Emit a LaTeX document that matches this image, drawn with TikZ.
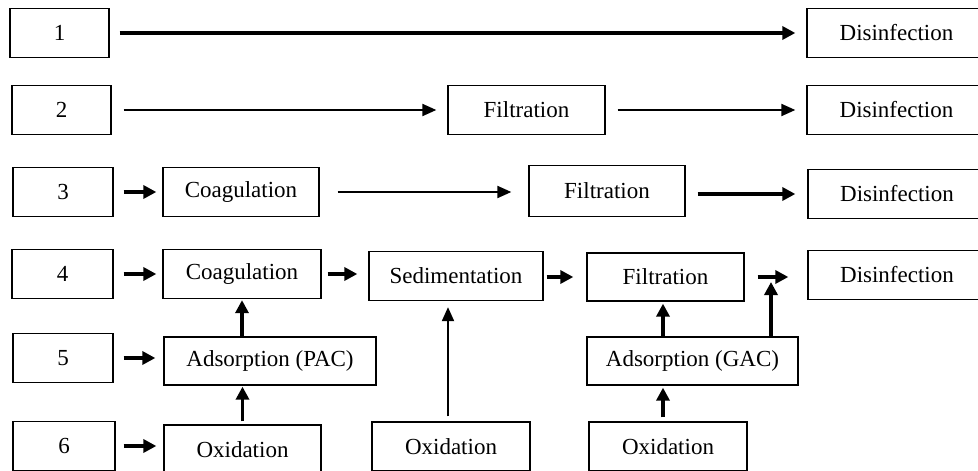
\documentclass[tikz,border=0pt]{standalone}
\usepackage{fontspec}
\setmainfont{Liberation Serif}
\usetikzlibrary{arrows.meta,calc}
\begin{document}
\begin{tikzpicture}[x=1pt,y=-1pt,
  box/.style={draw, line width=1.3pt, minimum width=#1, minimum height=49pt, inner sep=0pt,
    font=\fontsize{23}{27}\selectfont},
  arrthick/.style={line width=3.4pt, -{Triangle[length=13pt,width=13pt]}},
  arrthin/.style={line width=2pt, -{Triangle[length=14pt,width=12pt]}}]
\useasboundingbox (0,0) rectangle (978,471);
\clip (0,0) rectangle (978,471);
% left number boxes
\node[box=99pt] (b1) at (59.5,33) {1};
\node[box=99pt] (b2) at (61.5,110) {2};
\node[box=100pt] (b3) at (63,192) {3};
\node[box=101pt] (b4) at (62.5,274) {4};
\node[box=100pt] (b5) at (63,358) {5};
\node[box=102pt] (b6) at (64,446) {6};
% disinfection
\node[box=179pt] (d1) at (896.5,33) {Disinfection};
\node[box=179pt] (d2) at (896.5,110) {Disinfection};
\node[box=178pt] (d3) at (897,194) {Disinfection};
\node[box=178pt] (d4) at (897,275) {Disinfection};
% row 2
\node[box=157pt] (f2) at (526.5,110) {Filtration};
% row 3
\node[box=156pt] (c3) at (241,192) {Coagulation};
\node[box=156pt, minimum height=51pt] (f3) at (607,191) {Filtration};
% row 4
\node[box=158pt] (c4) at (242,274) {Coagulation};
\node[box=174pt] (sed) at (456,276) {Sedimentation};
\node[box=157pt, minimum height=48pt] (f4) at (665.5,277) {Filtration};
% row 5
\node[box=212pt, minimum height=48pt] (pac) at (270,361) {Adsorption (PAC)};
\node[box=211pt, minimum height=48pt] (gac) at (692.5,361) {Adsorption (GAC)};
% row 6
\node[box=157pt] (ox1) at (242.5,449.5) {Oxidation};
\node[box=158pt] (ox2) at (451,446.5) {Oxidation};
\node[box=158pt] (ox3) at (668,446.5) {Oxidation};
% row 1
\draw[arrthick, shorten <=10pt, shorten >=11pt] (b1.east) -- (d1.west);
% row 2
\draw[arrthin, shorten <=12pt, shorten >=11pt] (b2.east) -- (f2.west);
\draw[arrthin, shorten <=12pt, shorten >=11pt] (f2.east) -- (d2.west);
% row 3
\draw[arrthick, shorten <=10pt, shorten >=6pt] (b3.east) -- (b3.east -| c3.west);
\draw[arrthin, shorten <=18pt, shorten >=17pt] (c3.east) -- (c3.east -| f3.west);
\draw[arrthick, shorten <=12pt, shorten >=12pt] (f3.east |- d3.west) -- (d3.west);
% row 4
\draw[arrthick, shorten <=10pt, shorten >=6pt] (b4.east) -- (c4.west);
\draw[arrthick, shorten <=6pt, shorten >=11pt] (c4.east) -- (c4.east -| sed.west);
\draw[arrthick, shorten <=3pt, shorten >=13pt] (sed.east |- f4.west) -- (f4.west);
\coordinate (j) at (771,282);
\draw[arrthick, shorten <=13pt, shorten >=19pt] (f4.east) -- (f4.east -| d4.west);
% row 5 / 6 inputs
\draw[arrthick, shorten <=10pt, shorten >=8pt] (b5.east) -- (b5.east -| pac.west);
\draw[arrthick, shorten <=8pt, shorten >=7pt] (b6.east) -- (b6.east -| ox1.west);
% verticals
\draw[arrthick, shorten >=1pt] (pac.north -| c4.south) -- (c4.south);
\draw[arrthick, shorten <=3pt, shorten >=1pt] (ox1.north) -- (ox1.north |- pac.south);
\draw[arrthin, shorten <=5pt, shorten >=6pt] ([xshift=-3pt]ox2.north) -- ([xshift=-3pt]ox2.north |- sed.south);
\draw[arrthick, shorten >=2pt] ([xshift=-2.5pt]gac.north -| f4.south) -- ([xshift=-2.5pt]f4.south);
\draw[arrthick, shorten <=4pt, shorten >=2pt] ([xshift=-5pt]ox3.north) -- ([xshift=-5pt]ox3.north |- gac.south);
\draw[arrthick] (gac.north -| j) -- (j);
\end{tikzpicture}
\end{document}
